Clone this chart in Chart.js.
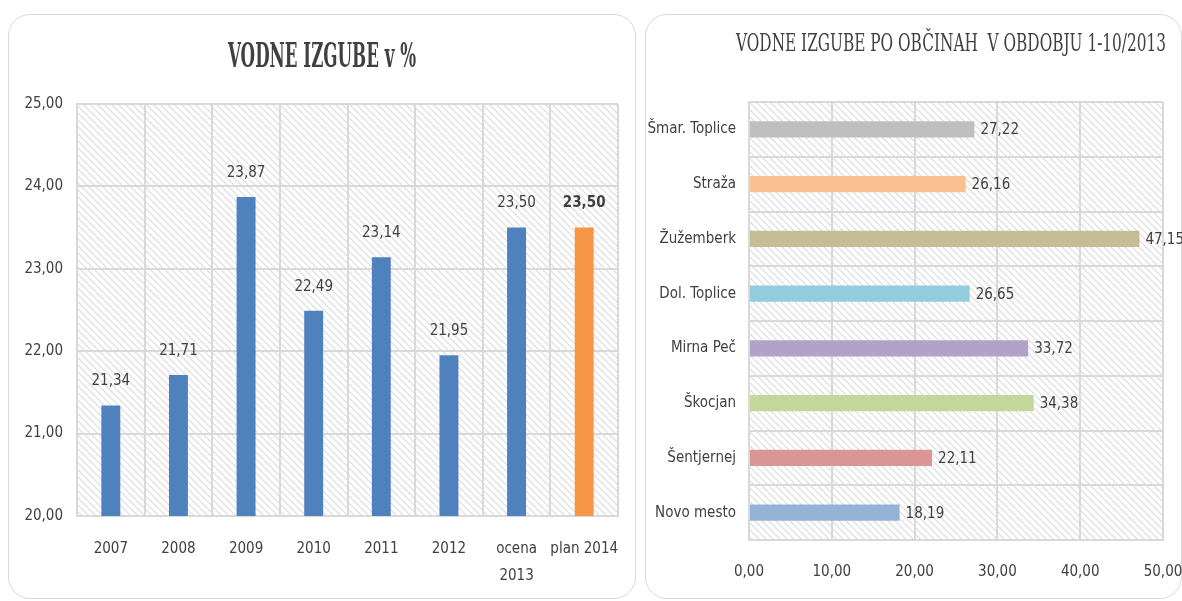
<!DOCTYPE html>
<html>
<head>
<meta charset="utf-8">
<script src="https://cdn.jsdelivr.net/npm/chart.js@4.4.1/dist/chart.umd.min.js"></script>
<style>
  body { margin: 0; background: #fff; width: 1182px; height: 601px; overflow: hidden; position: relative; }
  .panel { position: absolute; border: 1px solid #d9d9d9; border-radius: 22px; box-sizing: border-box; background: #fff; }
  #p1 { left: 8px; top: 14px; width: 628px; height: 585px; }
  #p2 { left: 645px; top: 14px; width: 537px; height: 585px; }
  canvas { position: absolute; top: 0; }
  #c1 { left: 0; }
  #c2 { left: 640px; }
</style>
</head>
<body>
<div class="panel" id="p1"></div>
<div class="panel" id="p2"></div>
<canvas id="c1" width="640" height="601"></canvas>
<canvas id="c2" width="542" height="601"></canvas>
<script>
// left chart - yearly losses
const years = ['2007', '2008', '2009', '2010', '2011', '2012', ['ocena', '2013'], 'plan 2014'];
const losses = [21.34, 21.71, 23.87, 22.49, 23.14, 21.95, 23.50, 23.50];
const yearColors = ['#4f81bd', '#4f81bd', '#4f81bd', '#4f81bd', '#4f81bd', '#4f81bd', '#4f81bd', '#f79646'];
const yTicks = [20, 21, 22, 23, 24, 25];

// right chart - per municipality
const towns = ['Šmar. Toplice', 'Straža', 'Žužemberk', 'Dol. Toplice', 'Mirna Peč', 'Škocjan', 'Šentjernej', 'Novo mesto'];
const townLosses = [27.22, 26.16, 47.15, 26.65, 33.72, 34.38, 22.11, 18.19];
const townColors = ['#bfbfbf', '#fac090', '#c4bd97', '#93cddd', '#b3a2c7', '#c3d69b', '#d99694', '#95b3d7'];
const xTicks = [0, 10, 20, 30, 40, 50];

const FONT = '"Liberation Sans Narrow", "DejaVu Sans Condensed", sans-serif';
const TXT = '#404040';
const GRID = '#d9d9d9';

function fmt(v) {
  return Number(v).toFixed(2).replace('.', ',');
}

function hatchPattern(ctx) {
  const c = document.createElement('canvas');
  c.width = 7; c.height = 7;
  const g = c.getContext('2d');
  g.strokeStyle = '#dcdcdc';
  g.lineWidth = 1.2;
  g.beginPath();
  g.moveTo(-1, -1); g.lineTo(8, 8);
  g.moveTo(-1, 6); g.lineTo(1, 8);
  g.moveTo(6, -1); g.lineTo(8, 1);
  g.stroke();
  return ctx.createPattern(c, 'repeat');
}

const hatch = {
  id: 'hatch',
  beforeDraw(chart) {
    const a = chart.chartArea;
    const ctx = chart.ctx;
    ctx.save();
    ctx.fillStyle = hatchPattern(ctx);
    ctx.fillRect(a.left, a.top, a.right - a.left, a.bottom - a.top);
    ctx.restore();
  }
};

// title squeezed to the width it has in the picture
const fitTitle = {
  id: 'fitTitle',
  afterDraw(chart, args, o) {
    const ctx = chart.ctx;
    ctx.save();
    ctx.font = o.font;
    ctx.fillStyle = TXT;
    ctx.textBaseline = 'alphabetic';
    const w = ctx.measureText(o.text).width;
    ctx.translate(o.x, o.y);
    ctx.scale(o.width / w, 1);
    ctx.fillText(o.text, 0, 0);
    ctx.restore();
  }
};

const valueLabels = {
  id: 'valueLabels',
  afterDatasetsDraw(chart, args, o) {
    const ctx = chart.ctx;
    const ds = chart.data.datasets[0];
    ctx.save();
    ctx.fillStyle = TXT;
    ctx.textBaseline = 'middle';
    chart.getDatasetMeta(0).data.forEach((bar, i) => {
      const bold = o.boldLast && i === ds.data.length - 1;
      ctx.font = (bold ? 'bold ' : '') + '15px ' + FONT;
      if (o.horizontal) {
        ctx.textAlign = 'left';
        ctx.fillText(fmt(ds.data[i]), bar.x + 6, bar.y + 1);
      } else {
        ctx.textAlign = 'center';
        ctx.fillText(fmt(ds.data[i]), bar.x, bar.y - 24);
      }
    });
    ctx.restore();
  }
};

const gridOpts = { color: GRID, lineWidth: 2, drawTicks: false };
const borderOpts = { color: GRID, width: 2 };
const tickFont = { family: FONT, size: 15, lineHeight: 1.8 };

new Chart(document.getElementById('c1'), {
  type: 'bar',
  data: {
    labels: years,
    datasets: [{
      data: losses,
      backgroundColor: yearColors,
      barPercentage: 0.28,
      categoryPercentage: 1
    }]
  },
  options: {
    responsive: false,
    animation: false,
    layout: { padding: { left: 0, right: 22, top: 104, bottom: 5 } },
    plugins: {
      legend: { display: false },
      tooltip: { enabled: false },
      fitTitle: { text: 'VODNE IZGUBE v %', font: 'bold 33px "DejaVu Serif Condensed", serif', x: 228, y: 67, width: 188 },
      valueLabels: { boldLast: true }
    },
    scales: {
      y: {
        min: 20,
        max: 25,
        afterBuildTicks: (s) => { s.ticks = yTicks.map(v => ({ value: v })); },
        ticks: { callback: (v) => fmt(v), color: TXT, font: tickFont, padding: 14 },
        grid: gridOpts,
        border: borderOpts,
        afterFit: (s) => { s.width = 77; }
      },
      x: {
        ticks: { color: TXT, font: tickFont, padding: 20, maxRotation: 0, autoSkip: false },
        grid: gridOpts,
        border: borderOpts,
        afterFit: (s) => { s.height = 80; s.paddingLeft = 0; s.paddingRight = 0; }
      }
    }
  },
  plugins: [hatch, fitTitle, valueLabels]
});

new Chart(document.getElementById('c2'), {
  type: 'bar',
  data: {
    labels: towns,
    datasets: [{
      data: townLosses,
      backgroundColor: townColors,
      barPercentage: 0.3,
      categoryPercentage: 1
    }]
  },
  options: {
    indexAxis: 'y',
    responsive: false,
    animation: false,
    layout: { padding: { left: 0, right: 19, top: 102, bottom: 16 } },
    plugins: {
      legend: { display: false },
      tooltip: { enabled: false },
      fitTitle: { text: 'VODNE IZGUBE PO OBČINAH  V OBDOBJU 1-10/2013', font: '24px "DejaVu Serif Condensed", serif', x: 96, y: 51, width: 430 },
      valueLabels: { horizontal: true }
    },
    scales: {
      x: {
        min: 0,
        max: 50,
        afterBuildTicks: (s) => { s.ticks = xTicks.map(v => ({ value: v })); },
        ticks: { callback: (v) => fmt(v), color: TXT, font: tickFont, padding: 19 },
        grid: gridOpts,
        border: borderOpts,
        afterFit: (s) => { s.height = 45; s.paddingLeft = 0; s.paddingRight = 0; }
      },
      y: {
        ticks: { color: TXT, font: tickFont, padding: 13, autoSkip: false },
        grid: gridOpts,
        border: borderOpts,
        afterFit: (s) => { s.width = 109; }
      }
    }
  },
  plugins: [hatch, fitTitle, valueLabels]
});
</script>
</body>
</html>
